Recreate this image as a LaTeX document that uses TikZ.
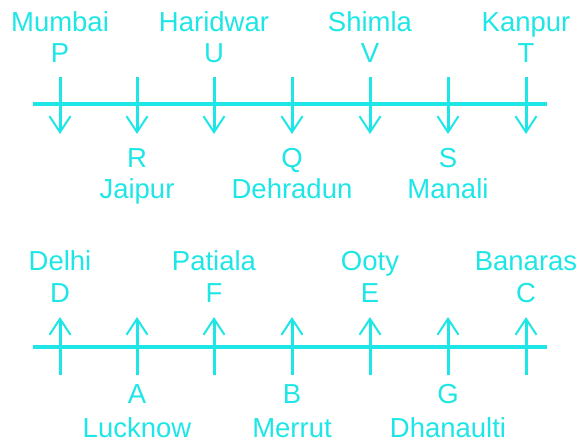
\documentclass[tikz,border=0pt]{standalone}
\usepackage{fontspec}
\setmainfont{Liberation Sans}
\usetikzlibrary{arrows.meta}
\definecolor{cy}{RGB}{30,230,230}
\begin{document}
\begin{tikzpicture}[x=1pt,y=-1pt,
  lbl/.style={text=cy,inner sep=0pt,anchor=base,font=\fontsize{27.5}{31}\selectfont},
  axis/.style={draw=cy,line width=4pt},
  tick/.style={draw=cy,line width=3pt,-{Straight Barb[length=16pt,width=21pt,line width=2pt]}}]
\useasboundingbox (0,0) rectangle (581,444);
% ---------- top line ----------
\coordinate (L1) at (33,104);
\coordinate (R1) at (547,104);
\draw[axis] (L1) -- (R1);
\foreach \i/\x in {1/60,2/137,3/214,4/292,5/370,6/448,7/526}{
  \coordinate (ta\i) at (\x,77);
  \coordinate (tb\i) at (\x,134);
  \draw[tick] (ta\i) -- (tb\i);
}
\node[lbl] (mumbai) at (60,32) {Mumbai};
\node[lbl] (P) at (60,63) {P};
\node[lbl] (haridwar) at (214,32) {Haridwar};
\node[lbl] (U) at (214,63) {U};
\node[lbl] (shimla) at (370,32) {Shimla};
\node[lbl] (V) at (370,63) {V};
\node[lbl] (kanpur) at (526,32) {Kanpur};
\node[lbl] (T) at (526,63) {T};
\node[lbl] (R) at (137,167) {R};
\node[lbl] (jaipur) at (137,198) {Jaipur};
\node[lbl] (Q) at (292,167) {Q};
\node[lbl] (dehradun) at (292,198) {Dehradun};
\node[lbl] (S) at (448,167) {S};
\node[lbl] (manali) at (448,198) {Manali};
% ---------- bottom line ----------
\coordinate (L2) at (33,347);
\coordinate (R2) at (547,347);
\draw[axis] (L2) -- (R2);
\foreach \i/\x in {1/60,2/137,3/214,4/292,5/370,6/448,7/526}{
  \coordinate (ba\i) at (\x,375);
  \coordinate (bb\i) at (\x,317);
  \draw[tick] (ba\i) -- (bb\i);
}
\node[lbl] (delhi) at (60,270) {Delhi};
\node[lbl] (D) at (60,302) {D};
\node[lbl] (patiala) at (214,270) {Patiala};
\node[lbl] (F) at (214,302) {F};
\node[lbl] (ooty) at (370,270) {Ooty};
\node[lbl] (E) at (370,302) {E};
\node[lbl] (banaras) at (526,270) {Banaras};
\node[lbl] (C) at (526,302) {C};
\node[lbl] (A) at (137,403) {A};
\node[lbl] (lucknow) at (137,437) {Lucknow};
\node[lbl] (B) at (292,403) {B};
\node[lbl] (merrut) at (292,437) {Merrut};
\node[lbl] (G) at (448,403) {G};
\node[lbl] (dhanaulti) at (448,437) {Dhanaulti};
\end{tikzpicture}
\end{document}
